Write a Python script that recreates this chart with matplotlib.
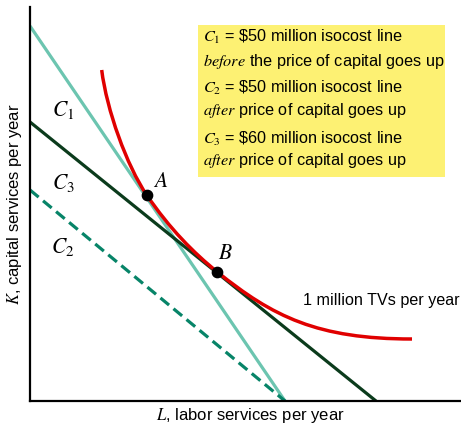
import matplotlib.pyplot as plt
from matplotlib.path import Path
from matplotlib.patches import PathPatch, FancyBboxPatch

plt.rcParams['font.family'] = ['Liberation Sans', 'DejaVu Sans']
plt.rcParams['mathtext.fontset'] = 'stix'

# isocost lines: intercepts on the K and L axes
isocost_labels = ['$C_1$', '$C_2$', '$C_3$']
k_intercepts = [375, 211, 279]
l_intercepts = [255, 255, 346]
label_pos = [(33, 291), (33, 154), (33, 218)]

# tangency points A and B
point_names = ['A', 'B']
point_L = [116.7, 187.0]
point_K = [206.0, 129.3]

# isoquant (1 million TVs) as cubic bezier pieces: start -> A -> B -> end
isoquant_L = [71.7, 76.7, 96.7, 116.7, 139.7, 164.0, 187.0, 242.8, 287.5, 382.0]
isoquant_K = [331.0, 291.0, 235.4, 206.0, 172.2, 147.8, 129.3, 84.3, 62.0, 62.0]

colors = ['#6cc5b0', '#078468', '#0b3b1c']
styles = ['-', '--', '-']

fig = plt.figure(figsize=(4.61, 4.26), dpi=100)
ax = fig.add_axes([30 / 461, 25 / 426, 431 / 461, 394 / 426])
ax.set_xlim(0, 431)
ax.set_ylim(0, 394)

for i in range(3):
    ln, = ax.plot([0, l_intercepts[i]], [k_intercepts[i], 0], color=colors[i],
                  lw=2.3, ls=styles[i], solid_capstyle='butt', zorder=2)
    if styles[i] == '--':
        ln.set_dashes((3.5, 1.8))
    ax.text(label_pos[i][0], label_pos[i][1], isocost_labels[i], fontsize=15.5,
            ha='center', va='center')

verts = list(zip(isoquant_L, isoquant_K))
codes = [Path.MOVETO] + [Path.CURVE4] * (len(verts) - 1)
ax.add_patch(PathPatch(Path(verts, codes), facecolor='none', edgecolor='#e00000',
                       lw=2.5, zorder=3))

ax.scatter(point_L, point_K, s=55, color='black', zorder=4)
ax.text(point_L[0] + 14, point_K[0] + 14, '$A$', fontsize=15.5, ha='center', va='center')
ax.text(point_L[1] + 8, point_K[1] + 18, '$B$', fontsize=15.5, ha='center', va='center')

ax.text(273, 100, '1 million TVs per year', fontsize=11.6, ha='left', va='center')

# yellow legend box
ax.add_patch(FancyBboxPatch((168, 224), 247, 152, boxstyle='square,pad=0',
                            facecolor='#fdf173', edgecolor='none', zorder=1))
lines = [r'$C_1$ = \$50 million isocost line',
         r'$\it{before}$ the price of capital goes up',
         r'$C_2$ = \$50 million isocost line',
         r'$\it{after}$ price of capital goes up',
         r'$C_3$ = \$60 million isocost line',
         r'$\it{after}$ price of capital goes up']
line_y = [364, 340, 313, 291, 262, 240]
for txt, yy in zip(lines, line_y):
    ax.text(173, yy, txt, fontsize=11.7, ha='left', va='center', zorder=5)

for s in ['top', 'right']:
    ax.spines[s].set_visible(False)
for s in ['left', 'bottom']:
    ax.spines[s].set_linewidth(1.6)
ax.set_xticks([])
ax.set_yticks([])
ax.set_xlabel('$L$, labor services per year', fontsize=12)
ax.xaxis.set_label_coords(220 / 431, -0.012)
ax.set_ylabel('$K$, capital services per year', fontsize=12, labelpad=4)

fig.savefig('out.png', dpi=100)
